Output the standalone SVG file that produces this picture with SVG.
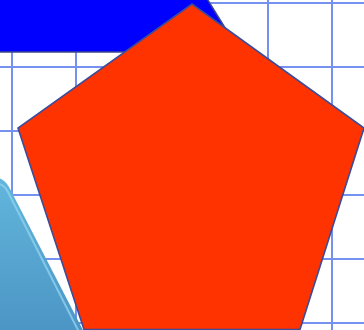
<svg xmlns="http://www.w3.org/2000/svg" width="364" height="330" viewBox="0 0 364 330">
<style>
.grid line{stroke:#7592f0;stroke-width:2}
</style>
<defs>
<linearGradient id="lb" x1="0" y1="0" x2="0" y2="1">
<stop offset="0" stop-color="#62b6dc"/>
<stop offset="1" stop-color="#4b94c4"/>
</linearGradient>
</defs>
<rect width="364" height="330" fill="#ffffff"/>
<g class="grid">
<line x1="12" y1="0" x2="12" y2="330"/>
<line x1="76" y1="0" x2="76" y2="330"/>
<line x1="140" y1="0" x2="140" y2="330"/>
<line x1="204" y1="0" x2="204" y2="330"/>
<line x1="268" y1="0" x2="268" y2="330"/>
<line x1="332" y1="0" x2="332" y2="330"/>
<line x1="0" y1="3" x2="364" y2="3"/>
<line x1="0" y1="67" x2="364" y2="67"/>
<line x1="0" y1="131" x2="364" y2="131"/>
<line x1="0" y1="195" x2="364" y2="195"/>
<line x1="0" y1="259" x2="364" y2="259"/>
<line x1="0" y1="323" x2="364" y2="323"/>
</g>
<g id="bar">
<polygon points="-3,-3 206,-3 240,52 -3,52 -3,50" fill="#0000ff" stroke="#3c4a8c" stroke-width="1.5"/>
</g>
<g id="lightshape">
<path d="M -5,178 Q 3,177 9,187 L 86,336 L -5,336 Z" fill="url(#lb)"/>
<path d="M -2,184 Q 4,184 8,192 L 79,332" fill="none" stroke="#8fd2ef" stroke-width="2" opacity="0.8"/>
</g>
<g id="pentagon">
<polygon points="192,4 364,128 300,329.5 84,329.5 18,128" fill="#ff3300" stroke="#3e4b98" stroke-width="1.6" stroke-linejoin="miter"/>
</g>
</svg>
